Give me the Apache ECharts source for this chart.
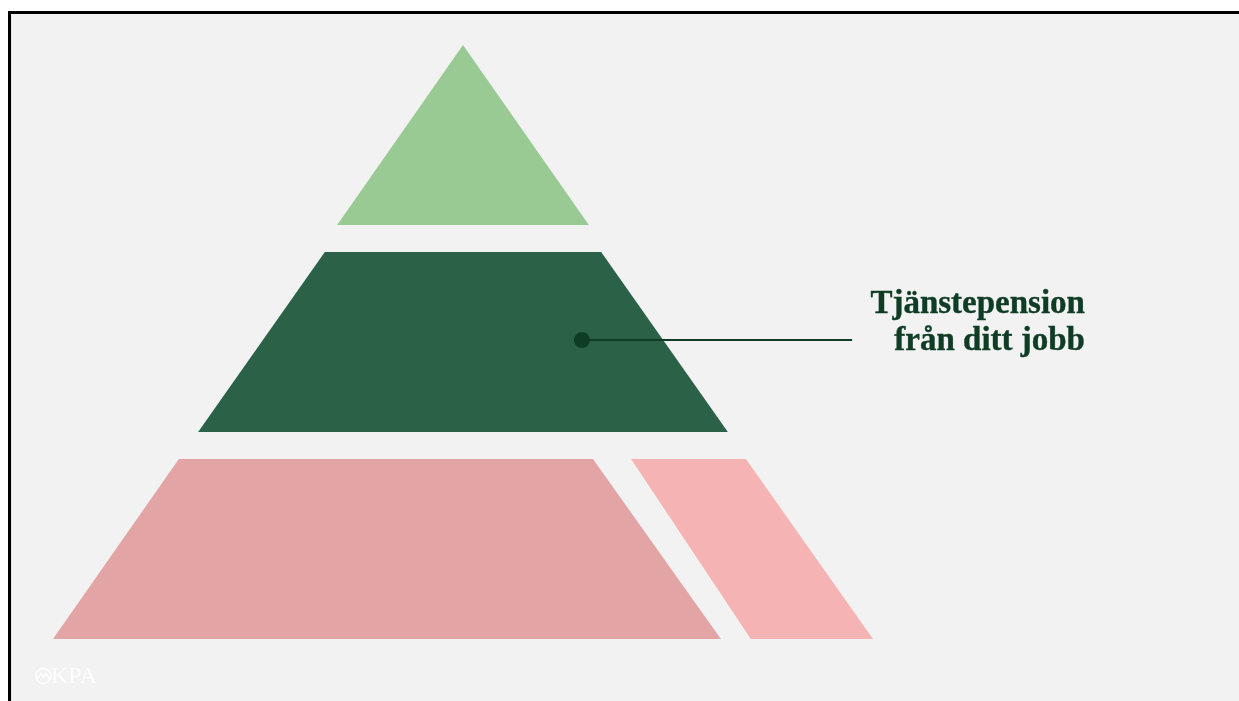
<!DOCTYPE html>
<html>
<head>
<meta charset="utf-8">
<style>
  html, body { margin: 0; padding: 0; background: #ffffff; }
  #chart { width: 1239px; height: 701px; }
</style>
<script src="https://cdn.jsdelivr.net/npm/echarts@6/dist/echarts.min.js"></script>
</head>
<body>
<div id="chart"></div>
<script>
// ---- Data: pyramid pieces (x in units of the base half-width, tiers counted from the top) ----
const pieceNames = ['Privat sparande', 'Tjänstepension från ditt jobb', 'Inkomstpension', 'Premiepension'];
const pieceTier = [0, 1, 2, 2];
const pieceTopLeft = [0, -0.337, -0.693, 0.410];
const pieceTopRight = [0, 0.337, 0.317, 0.690];
const pieceBottomLeft = [-0.307, -0.646, -1.0, 0.702];
const pieceBottomRight = [0.307, 0.646, 0.629, 1.0];
const tierNames = ['Topp', 'Mitten', 'Botten'];
const labelText = ['Tjänstepension', 'från ditt jobb'];
const labelledPiece = 1;

// ---- Styles ----
const pieceColors = ['#9aca94', '#2a6147', '#e3a4a5', '#f6b3b3'];
const tierFill = 0.87; // share of each tier pitch that is filled
const darkGreen = '#0f3c24';

const chart = echarts.init(document.getElementById('chart'));

const option = {
  animation: false,
  backgroundColor: '#ffffff',
  graphic: [
    { type: 'rect', z: -10, silent: true, shape: { x: 8, y: 11, width: 1239, height: 701 }, style: { fill: '#000000' } },
    { type: 'rect', z: -9, silent: true, shape: { x: 11, y: 14, width: 1239, height: 701 }, style: { fill: '#e6e6e6' } },
    { type: 'rect', z: -8, silent: true, shape: { x: 12, y: 14, width: 1239, height: 701 }, style: { fill: '#f2f2f2' } },
    { type: 'circle', z: 5, silent: true, shape: { cx: 43.5, cy: 676, r: 7.5 }, style: { fill: 'none', stroke: 'rgba(255,255,255,0.8)', lineWidth: 1.8 } },
    { type: 'polyline', z: 5, silent: true, shape: { points: [[37, 680], [41, 673.5], [43.5, 677], [46, 673.5], [50, 680]] }, style: { fill: 'none', stroke: 'rgba(255,255,255,0.8)', lineWidth: 1.5 } },
    { type: 'text', z: 5, silent: true, style: { x: 51, y: 677, text: 'KPA', font: '24px "Liberation Serif"', fill: 'rgba(255,255,255,0.8)', textVerticalAlign: 'middle' } }
  ],
  grid: { left: 53, right: 366, top: 45, bottom: 35 },
  xAxis: { type: 'value', min: -1, max: 1, show: false },
  yAxis: { type: 'value', min: 0, max: 3, inverse: true, show: false },
  series: [{
    type: 'custom',
    coordinateSystem: 'cartesian2d',
    silent: true,
    data: pieceNames.map((n, i) => ({ name: n, value: [i, pieceTier[i]] })),
    renderItem: function (params, api) {
      const i = api.value(0);
      const t = api.value(1);
      const tl = api.coord([pieceTopLeft[i], t]);
      const tr = api.coord([pieceTopRight[i], t]);
      const br = api.coord([pieceBottomRight[i], t + tierFill]);
      const bl = api.coord([pieceBottomLeft[i], t + tierFill]);
      const poly = {
        type: 'polygon',
        shape: { points: [tl, tr, br, bl] },
        style: { fill: pieceColors[i] }
      };
      if (i !== labelledPiece) return poly;
      const dot = api.coord([0.29, t + tierFill / 2]);
      const lineEnd = api.coord([0.949, t + tierFill / 2]);
      const textRight = api.coord([1.517, t + tierFill / 2]);
      return {
        type: 'group',
        children: [
          poly,
          { type: 'line', shape: { x1: dot[0], y1: dot[1] - 2, x2: lineEnd[0], y2: lineEnd[1] - 2 }, style: { stroke: darkGreen, lineWidth: 2 } },
          { type: 'circle', shape: { cx: dot[0], cy: dot[1] - 2, r: 8 }, style: { fill: darkGreen } },
          {
            type: 'text',
            style: {
              x: textRight[0], y: dot[1] - 19,
              text: labelText.join('\n'),
              font: 'bold 33px "Liberation Serif"',
              lineHeight: 37,
              fill: darkGreen,
              stroke: darkGreen,
              lineWidth: 0.4,
              align: 'right',
              verticalAlign: 'middle'
            }
          }
        ]
      };
    }
  }]
};

chart.setOption(option);
</script>
</body>
</html>
